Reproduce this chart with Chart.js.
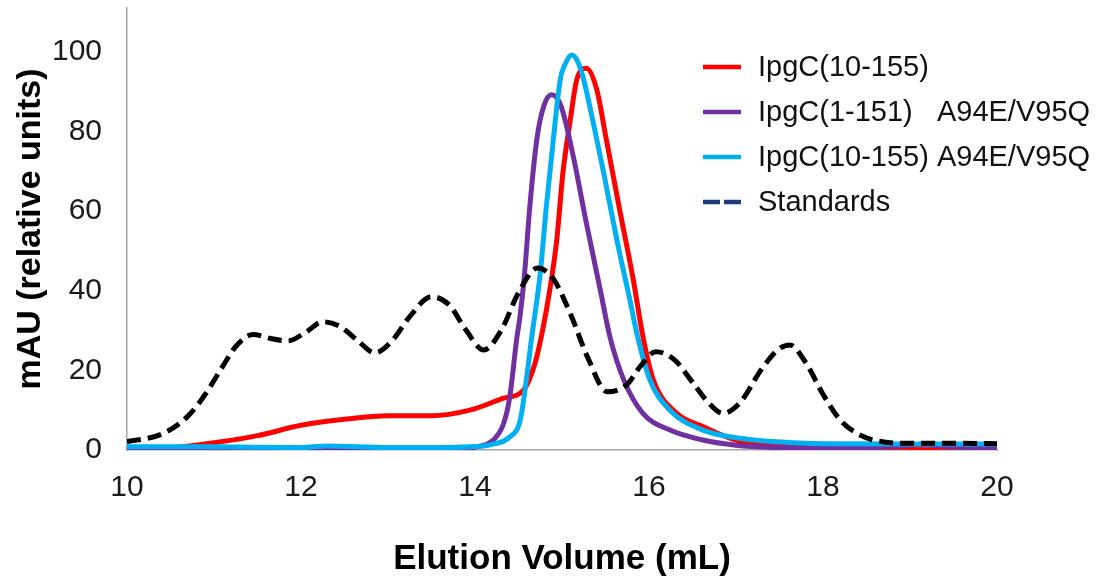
<!DOCTYPE html>
<html>
<head>
<meta charset="utf-8">
<script src="https://cdn.jsdelivr.net/npm/chart.js@4"></script>
<style>
html,body{margin:0;padding:0;background:#fff;}
#wrap{width:1104px;height:579px;position:relative;}
</style>
</head>
<body>
<div id="wrap"><canvas id="c" width="1104" height="579"></canvas></div>
<script>
// ---- data ----
const xTicks = [10, 12, 14, 16, 18, 20];
const yTicks = [0, 20, 40, 60, 80, 100];

const seriesLabels = ['IpgC(10-155)', 'IpgC(1-151)   A94E/V95Q', 'IpgC(10-155) A94E/V95Q', 'Standards'];

const redX = [10, 10.5, 11, 11.5, 12, 12.5, 13, 13.5, 13.94, 14.33, 14.56, 14.69, 14.77, 14.86, 14.94, 15.01, 15.09, 15.17, 15.28, 15.40, 15.51, 15.67, 15.82, 15.93, 16.05, 16.32, 16.62, 17.0, 17.5, 18, 19, 20];
const redY = [0, 0.5, 1.8, 3.6, 6.2, 7.7, 8.6, 8.6, 10, 13, 15.1, 21.8, 29.3, 40.2, 52.8, 69.5, 82.1, 93, 95.9, 90.5, 77.9, 59.5, 42.7, 28.5, 17.6, 9.2, 5.9, 2.5, 1, 0.4, 0.1, 0];

const purpleX = [10, 12, 13.5, 14.02, 14.21, 14.33, 14.4, 14.48, 14.52, 14.57, 14.63, 14.71, 14.79, 14.88, 14.99, 15.13, 15.28, 15.44, 15.55, 15.71, 15.93, 16.24, 16.62, 17.0, 17.5, 18, 18.8, 19.1, 19.4, 20];
const purpleY = [0, 0, 0, 0.8, 2.5, 6.7, 13.4, 28, 34, 44.4, 61.1, 77.9, 86.3, 89.2, 86.3, 73.7, 57, 40.2, 28.5, 17.6, 9.2, 5, 2.5, 1.2, 0.6, 0.4, 0.8, 1.4, 0.9, 0.3];

const cyanX = [10, 11, 12, 12.3, 13, 13.5, 13.94, 14.17, 14.4, 14.52, 14.59, 14.65, 14.75, 14.82, 14.9, 14.98, 15.05, 15.11, 15.17, 15.24, 15.36, 15.48, 15.63, 15.78, 15.86, 16.01, 16.24, 16.62, 17.13, 17.6, 18, 19, 20];
const cyanY = [0.8, 0.8, 0.6, 1.0, 0.6, 0.6, 0.8, 1.3, 3.3, 7.5, 17.6, 28, 44.4, 61.1, 77.9, 93, 97.5, 99.2, 98, 93.8, 82.1, 69.5, 52.8, 37.7, 29.3, 17.6, 10, 5, 2.7, 1.9, 1.6, 1.5, 1.5];

const stdX = [10, 10.4, 10.7, 10.9, 11.1, 11.25, 11.45, 11.65, 11.85, 12.05, 12.25, 12.45, 12.65, 12.85, 13.05, 13.25, 13.5, 13.7, 13.9, 14.1, 14.3, 14.5, 14.72, 14.9, 15.1, 15.3, 15.52, 15.75, 15.9, 16.08, 16.3, 16.5, 16.7, 16.85, 17.05, 17.3, 17.5, 17.62, 17.8, 18.0, 18.2, 18.45, 18.7, 19.0, 19.5, 20];
const stdY = [2.1, 4.0, 8.5, 14, 21, 26, 29, 28, 27.4, 29.5, 32.2, 31, 27.5, 24.4, 27.5, 33.5, 38.5, 36.5, 30, 25.1, 30, 39.5, 45.7, 43, 34, 23, 14.6, 16.5, 21, 24.7, 22.5, 17, 11.5, 9.2, 12, 20.5, 25.5, 26.4, 22, 14, 7.5, 3.5, 2.0, 1.7, 1.7, 1.6];

const toPts = (xs, ys) => xs.map((x, i) => ({x: x, y: ys[i]}));

const FONT = "'Liberation Sans', Arial, sans-serif";

const legendPlugin = {
  id: 'customLegend',
  afterDatasetsDraw(chart) {
    const ctx = chart.ctx;
    const a = chart.chartArea;
    const x0 = a.left + 576, x1 = a.left + 614, tx = a.left + 631;
    const y0 = a.top + 59, dy = 45;
    ctx.save();
    chart.data.datasets.forEach((ds, i) => {
      const y = y0 + i * dy;
      ctx.beginPath();
      ctx.lineWidth = 4.5;
      ctx.strokeStyle = ds.legendColor || ds.borderColor;
      ctx.setLineDash(ds.legendDash || []);
      ctx.lineCap = 'butt';
      ctx.moveTo(x0, y);
      ctx.lineTo(x1, y);
      ctx.stroke();
      ctx.setLineDash([]);
      ctx.fillStyle = '#111';
      ctx.font = '29px ' + FONT;
      ctx.textBaseline = 'middle';
      ctx.textAlign = 'left';
      ctx.fillText(ds.label, tx, y + 1);
    });
    ctx.restore();
  }
};

const common = {pointRadius: 0, pointHoverRadius: 0, borderWidth: 5, fill: false, cubicInterpolationMode: 'monotone'};

new Chart(document.getElementById('c'), {
  type: 'line',
  data: {
    datasets: [
      Object.assign({label: seriesLabels[0], data: toPts(redX, redY), borderColor: '#ff0000', order: 3}, common),
      Object.assign({label: seriesLabels[1], data: toPts(purpleX, purpleY), borderColor: '#7030a0', order: 2}, common),
      Object.assign({label: seriesLabels[2], data: toPts(cyanX, cyanY), borderColor: '#00b0f0', order: 1}, common),
      Object.assign({label: seriesLabels[3], data: toPts(stdX, stdY), borderColor: '#000000', borderDash: [14, 7],
        legendColor: '#1f3a78', legendDash: [17, 4], order: 0}, common)
    ]
  },
  options: {
    responsive: false,
    animation: false,
    events: [],
    layout: {padding: {top: 8, right: 107, bottom: 0, left: 0}},
    plugins: {legend: {display: false}, tooltip: {enabled: false}, title: {display: false}},
    scales: {
      x: {
        type: 'linear', min: 10, max: 20,
        afterBuildTicks: s => { s.ticks = xTicks.map(v => ({value: v})); },
        afterFit: s => { s.height = 129; s.paddingLeft = 0; s.paddingRight = 0; },
        grid: {display: false, drawTicks: false},
        border: {display: true, color: '#a6a6a6', width: 1.5},
        ticks: {padding: 20, color: '#1a1a1a', font: {family: FONT, size: 30}, maxRotation: 0},
        title: {display: true, text: 'Elution Volume (mL)', color: '#000', font: {family: FONT, size: 35, weight: 'bold', lineHeight: 1.1}, padding: {top: 0, bottom: 0}}
      },
      y: {
        type: 'linear', min: 0, max: 111,
        afterBuildTicks: s => { s.ticks = yTicks.map(v => ({value: v})); },
        afterFit: s => { s.width = 127; s.paddingTop = 0; s.paddingBottom = 0; },
        grid: {display: false, drawTicks: false},
        border: {display: true, color: '#a6a6a6', width: 1.5},
        ticks: {padding: 25, color: '#1a1a1a', font: {family: FONT, size: 30}},
        title: {display: true, text: 'mAU (relative units)', color: '#000', font: {family: FONT, size: 34, weight: 'bold'}, padding: {top: 10, bottom: 10}}
      }
    }
  },
  plugins: [legendPlugin]
});
</script>
</body>
</html>
